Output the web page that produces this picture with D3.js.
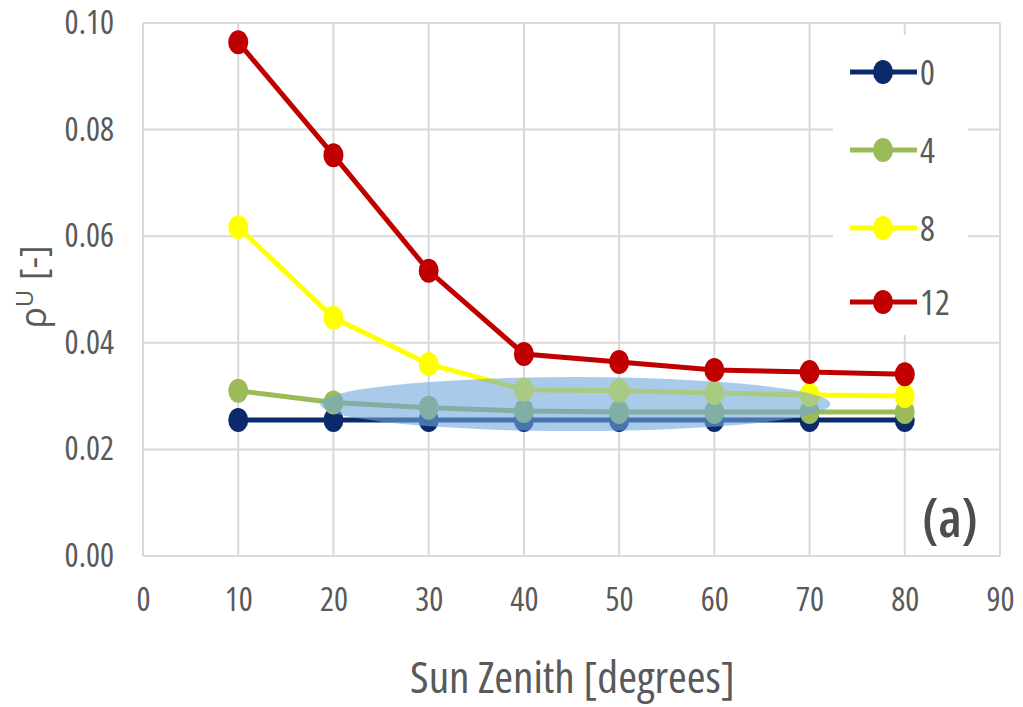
<!DOCTYPE html>
<html>
<head>
<meta charset="utf-8">
<script src="https://cdn.jsdelivr.net/npm/d3@7"></script>
<style>
  body { margin: 0; background: #fff; }
  text { font-family: "Open Sans", sans-serif; font-stretch: 82%; fill: #595959; }
</style>
</head>
<body>
<div class="chart"></div>
<script>
// data
var zenith = [10, 20, 30, 40, 50, 60, 70, 80];
var seriesNames = ["0", "4", "8", "12"];
var s0 = [0.0255, 0.0255, 0.0255, 0.0255, 0.0255, 0.0255, 0.0255, 0.0255];
var s4 = [0.031, 0.0288, 0.0278, 0.0272, 0.027, 0.027, 0.027, 0.027];
var s8 = [0.0617, 0.0447, 0.0360, 0.0312, 0.031, 0.0306, 0.0302, 0.0300];
var s12 = [0.0964, 0.0752, 0.0535, 0.0379, 0.0364, 0.0349, 0.0345, 0.0341];
var colors = ["#0b2a6b", "#9bbb59", "#ffff00", "#c00000"];
var xTicks = [0, 10, 20, 30, 40, 50, 60, 70, 80, 90];
var yTicks = [0, 0.02, 0.04, 0.06, 0.08, 0.10];

var svgWidth = 1023;
var svgHeight = 707;
var margin = { top: 23, right: 23, bottom: 151, left: 143 };
var width = svgWidth - margin.left - margin.right;
var height = svgHeight - margin.top - margin.bottom;

var svg = d3.select(".chart")
  .append("svg")
  .attr("width", svgWidth)
  .attr("height", svgHeight);

var chartGroup = svg.append("g")
  .attr("transform", `translate(${margin.left}, ${margin.top})`);

var x = d3.scaleLinear().domain([0, 90]).range([0, width]);
var y = d3.scaleLinear().domain([0, 0.10]).range([height, 0]);

// gridlines
chartGroup.append("g")
  .selectAll("line.h")
  .data(yTicks)
  .enter()
  .append("line")
  .attr("x1", 0).attr("x2", width)
  .attr("y1", d => y(d)).attr("y2", d => y(d))
  .attr("stroke", "#d9d9d9").attr("stroke-width", 2);

chartGroup.append("g")
  .selectAll("line.v")
  .data(xTicks)
  .enter()
  .append("line")
  .attr("x1", d => x(d)).attr("x2", d => x(d))
  .attr("y1", 0).attr("y2", height)
  .attr("stroke", "#d9d9d9").attr("stroke-width", 2);

// axes (labels only, no domain lines)
var bottomAxis = d3.axisBottom(x).tickValues(xTicks).tickSize(0).tickPadding(32);
var leftAxis = d3.axisLeft(y).tickValues(yTicks).tickSize(0).tickPadding(29).tickFormat(d3.format(".2f"));

chartGroup.append("g")
  .attr("transform", `translate(0, ${height})`)
  .call(bottomAxis)
  .call(g => g.select(".domain").remove())
  .selectAll("text").style("font-size", "33px").attr("fill", "#595959");

chartGroup.append("g")
  .call(leftAxis)
  .call(g => g.select(".domain").remove())
  .selectAll("text").style("font-size", "33px").attr("fill", "#595959");

// legend background covers gridlines
chartGroup.append("rect")
  .attr("x", 833 - margin.left).attr("y", 35 - margin.top)
  .attr("width", 135).attr("height", 300)
  .attr("fill", "#fff");

var allSeries = [s0, s4, s8, s12];
var line = d3.line().x((d, i) => x(zenith[i])).y(d => y(d));

allSeries.forEach(function (vals, k) {
  chartGroup.append("path")
    .datum(vals)
    .attr("d", line)
    .attr("fill", "none")
    .attr("stroke", colors[k])
    .attr("stroke-width", 5);

  chartGroup.selectAll(".pt" + k)
    .data(vals)
    .enter()
    .append("ellipse")
    .attr("cx", (d, i) => x(zenith[i]))
    .attr("cy", d => y(d))
    .attr("rx", 10)
    .attr("ry", 12)
    .attr("fill", colors[k]);
});

// highlight ellipse
chartGroup.append("ellipse")
  .attr("cx", x(45.4)).attr("cy", y(0.0285))
  .attr("rx", 255).attr("ry", 27)
  .attr("fill", "#6fa6da")
  .attr("opacity", 0.6);

// legend
var legend = chartGroup.selectAll(".legend")
  .data(seriesNames)
  .enter()
  .append("g")
  .attr("transform", (d, i) => `translate(${850 - margin.left}, ${[72, 150, 228, 302][i] - margin.top})`);

legend.append("line")
  .attr("x1", 0).attr("x2", 67)
  .attr("stroke", (d, i) => colors[i])
  .attr("stroke-width", 5);
legend.append("ellipse")
  .attr("cx", 33).attr("rx", 10).attr("ry", 12)
  .attr("fill", (d, i) => colors[i]);
legend.append("text")
  .attr("x", 70).attr("dy", "0.36em")
  .style("font-size", "35px")
  .text(d => d);

// panel label
chartGroup.append("text")
  .attr("x", 950 - margin.left).attr("y", 537 - margin.top)
  .attr("text-anchor", "middle")
  .style("font-size", "54px")
  .style("font-weight", "600")
  .style("font-stretch", "75%")
  .style("fill", "#4d4d4d")
  .text("(a)");

// axis titles
var yt = svg.append("text")
  .attr("transform", "translate(46, 287) rotate(-90)")
  .attr("text-anchor", "middle")
  .style("font-size", "36px")
  .style("font-stretch", "100%");
yt.append("tspan").text("\u03c1");
yt.append("tspan").attr("dy", -13).style("font-size", "24px").text("U");
yt.append("tspan").attr("dy", 13).text(" [-]");

svg.append("text")
  .attr("x", 410).attr("y", 693)
  .attr("textLength", 325)
  .attr("lengthAdjust", "spacingAndGlyphs")
  .style("font-size", "43px")
  .text("Sun Zenith [degrees]");
</script>
</body>
</html>
